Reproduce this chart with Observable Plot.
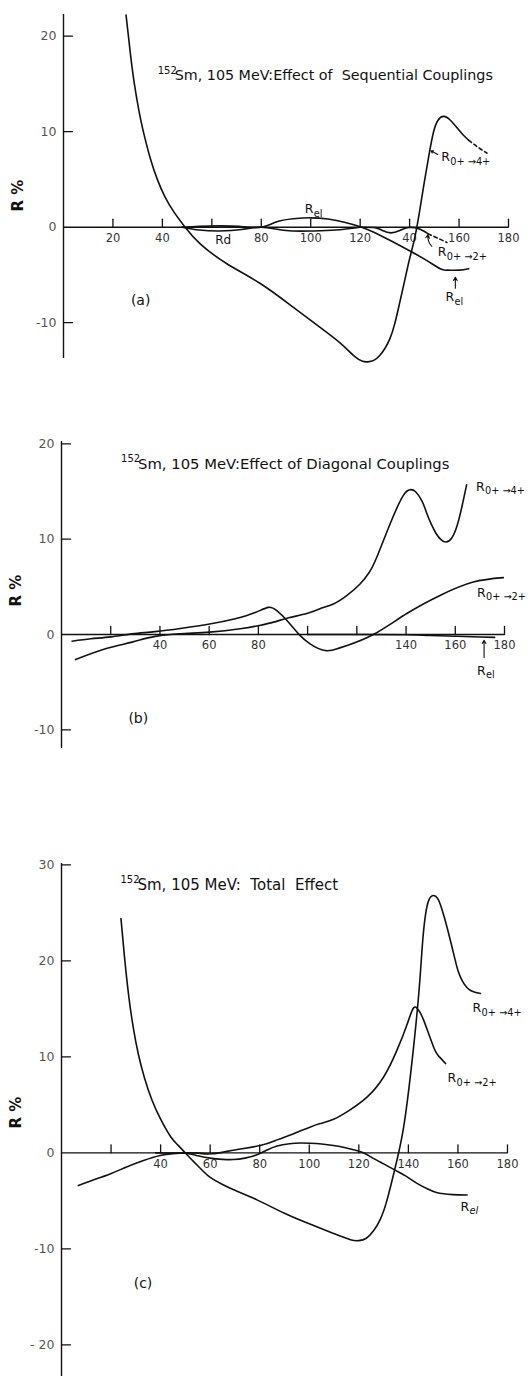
<!DOCTYPE html>
<html><head><meta charset="utf-8">
<script src="https://cdn.jsdelivr.net/npm/d3@7"></script>
<script src="https://cdn.jsdelivr.net/npm/@observablehq/plot@0.6"></script>
<style>
html,body{margin:0;padding:0;background:#fff}
body{width:528px;height:1376px;position:relative;overflow:hidden}
.panel{position:absolute;left:0}
.panel svg{overflow:visible}
</style></head><body>
<div id="pa" class="panel" style="top:0"></div>
<div id="pb" class="panel" style="top:420px"></div>
<div id="pc" class="panel" style="top:860px"></div>
<script>
// ---------- Panel (a): Effect of Sequential Couplings ----------
const aTitle = "Sm, 105 MeV:Effect of  Sequential Couplings";
const aR04Deg = [25.3, 27, 28.5, 30.5, 32.3, 35, 38.1, 41, 44.5, 49.2, 55.3, 66.1, 79.6, 93, 103.8, 112.2, 117.6, 121, 123, 125.5, 128, 130, 132, 134, 136, 138, 140, 142, 144, 146, 148, 149.7, 151.5, 153.8, 156.5, 159.2, 161.5, 163.9];
const aR04Val = [22.2, 18.3, 15.3, 12.2, 10, 7.3, 4.9, 3.2, 1.65, 0, -1.74, -3.83, -5.9, -8.4, -10.5, -12.2, -13.5, -14.05, -14.1, -13.95, -13.4, -12.7, -11.7, -10.1, -7.9, -5.6, -3.3, -1.2, 1.6, 4.8, 7.8, 10.0, 11.2, 11.6, 11.2, 10.4, 9.7, 9.1];
const aR04DashDeg = [163.9, 167.5, 171.3];
const aR04DashVal = [9.1, 8.4, 7.75];
const aRelDeg = [48, 55, 63, 71, 80, 86, 93, 100, 107, 114, 120, 125.3, 132.2, 140.9, 147, 152.4, 155.1, 160, 163.9];
const aRelVal = [0, 0.1, 0.14, 0.08, 0, 0.55, 0.88, 0.98, 0.85, 0.5, 0.05, -0.5, -1.4, -2.6, -3.5, -4.36, -4.5, -4.5, -4.36];
const aRdDeg = [48, 55, 63, 72, 80, 90, 100, 110, 120];
const aRdVal = [0, -0.3, -0.4, -0.25, 0, -0.35, -0.4, -0.3, 0];
const aR02Deg = [120, 126, 129, 132.5, 136, 139, 142, 144.5, 147.5];
const aR02Val = [0, -0.05, -0.35, -0.6, -0.35, -0.05, -0.05, -0.25, -0.7];
const aR02DashDeg = [147.5, 151, 155.1];
const aR02DashVal = [-0.7, -1.1, -1.6];
const aXTicks = [20, 40, 60, 80, 100, 120, 140, 160, 180];
const aXLabels = ["20", "40", "", "80", "100", "120", "40", "160", "180"];
const aYTicks = [20, 10, -10];
const aYLabelVals = [20, 10, 0, -10];
const aYLabels = ["20", "10", "0", "-10"];

// ---------- Panel (b): Effect of Diagonal Couplings ----------
const bTitle = "Sm, 105 MeV:Effect of Diagonal Couplings";
const bR02Deg = [4.3, 12, 20, 28.7, 38, 49, 60.2, 70.6, 78.7, 84.1, 87.5, 91.6, 96.3, 101, 107.1, 112, 116, 126.7, 140.3, 153.8, 167.3, 179.5];
const bR02Val = [-0.7, -0.45, -0.25, 0.07, 0.3, 0.66, 1.1, 1.65, 2.3, 2.85, 2.5, 1.47, 0.07, -0.98, -1.68, -1.5, -1.15, 0, 2.2, 4.1, 5.5, 5.97];
const bR04Deg = [5.7, 17.9, 28.7, 38.1, 50, 60.2, 72.6, 80.4, 86.2, 92.3, 99.7, 105, 110.5, 116, 121.3, 125, 128.1, 133.5, 138.9, 141.9, 143.8, 146.5, 148.3, 150.2, 152.2, 154.2, 156.3, 158.5, 160.6, 162.6, 164.6];
const bR04Val = [-2.63, -1.5, -0.8, -0.2, 0.1, 0.25, 0.6, 0.95, 1.3, 1.75, 2.2, 2.7, 3.2, 4.1, 5.3, 6.5, 8.1, 11.6, 14.6, 15.2, 15.0, 14.0, 12.8, 11.6, 10.6, 9.95, 9.7, 10.1, 11.3, 13.3, 15.7];
const bRelDeg = [100, 120, 140, 150, 160, 170, 176];
const bRelVal = [0, 0, -0.03, -0.1, -0.18, -0.26, -0.3];
const bXTicks = [20, 40, 60, 80, 100, 120, 140, 160, 180];
const bXLabels = ["", "40", "60", "80", "", "", "140", "160", "180"];
const bYTicks = [20, 10, -10];
const bYLabelVals = [20, 10, 0, -10];
const bYLabels = ["20", "10", "0", "-10"];

// ---------- Panel (c): Total Effect ----------
const cTitle = "Sm, 105 MeV:  Total  Effect";
const cR04Deg = [24, 25.5, 27.2, 29, 31, 33.5, 36.5, 40, 44, 47, 49.9, 52.5, 55, 57.5, 60, 65, 70, 78.9, 90, 100, 109.8, 116.6, 120, 123, 126, 128.7, 131.4, 134.7, 138.1, 141.5, 144.2, 145.6, 146.8, 148.2, 150, 151.8, 153.5, 155.6, 158.3, 160, 161.7, 163.7, 166, 169.1];
const cR04Val = [24.4, 20.2, 16.2, 13.0, 10.3, 7.8, 5.5, 3.5, 1.7, 0.8, 0, -0.7, -1.35, -2.0, -2.55, -3.3, -3.9, -4.9, -6.3, -7.4, -8.4, -9.05, -9.15, -8.9, -8.1, -6.9, -4.9, -1.5, 2.7, 9.6, 16.6, 21.5, 24.6, 26.3, 26.8, 26.5, 25.4, 23.5, 20.7, 19.0, 17.95, 17.2, 16.8, 16.6];
const cR02Deg = [6.8, 12, 19.6, 26, 33.1, 39.8, 45, 49.9, 55, 60.7, 70, 80.2, 87, 93.7, 100, 104.4, 109.8, 116, 123.3, 130, 135.4, 139.5, 142.1, 144, 146.2, 150.2, 152.5, 155];
const cR02Val = [-3.4, -2.9, -2.2, -1.5, -0.8, -0.28, -0.08, 0, -0.03, -0.1, 0.3, 0.76, 1.35, 2.0, 2.65, 3.05, 3.5, 4.4, 5.8, 7.9, 10.7, 13.4, 15.1, 14.9, 13.8, 11.0, 10.0, 9.3];
const cRelDeg = [38, 45, 50, 55, 60, 65, 69.4, 74, 78.9, 83, 87, 92, 96.4, 100.4, 105, 109.8, 115, 121.3, 125, 130, 135, 139.5, 143, 147.6, 151, 154.3, 158, 163.7];
const cRelVal = [0, -0.02, -0.05, -0.3, -0.55, -0.68, -0.7, -0.55, -0.2, 0.3, 0.72, 0.95, 1.02, 1.0, 0.92, 0.76, 0.5, 0.06, -0.45, -1.15, -1.85, -2.5, -3.1, -3.75, -4.1, -4.27, -4.35, -4.4];
const cXTicks = [20, 40, 60, 80, 100, 120, 140, 160, 180];
const cXLabels = ["", "40", "60", "80", "100", "120", "140", "160", "180"];
const cYTicks = [30, 20, 10, -10, -20];
const cYLabelVals = [30, 20, 10, 0, -10, -20];
const cYLabels = ["30", "20", "10", "0", "-10", "- 20"];

// ---------- helpers ----------
const FONT = "DejaVu Sans";
const INK = "#111";
const pts = (xs, ys) => xs.map((x, i) => ({x, y: ys[i]}));
const tickShape = {draw(ctx, l) { ctx.moveTo(0, 0); ctx.lineTo(0, -l); }};

function curve(xs, ys, dashed) {
  return Plot.line(pts(xs, ys), {x: "x", y: "y", curve: "natural", stroke: INK, strokeWidth: 1.6,
    strokeDasharray: dashed ? "3.5,3" : null});
}
function subLabel(x, y, base, sub, opts = {}) {
  const fs = opts.fs || 12.5;
  return [
    Plot.text([0], {x: () => x, y: () => y, text: () => base, textAnchor: "start", fontSize: fs, fill: INK}),
    Plot.text([0], {x: () => x, y: () => y, text: () => sub, textAnchor: "start", fontSize: fs * 0.78, dx: fs * 0.72, dy: 4.5, fill: INK, fontStyle: opts.italic ? "italic" : null})
  ];
}
function title(x, y, main, fs) {
  return [
    Plot.text([0], {x: () => x, y: () => y, text: () => "152", textAnchor: "start", fontSize: 10, dy: -5, fill: INK}),
    Plot.text([0], {x: () => x, y: () => y, text: () => main, textAnchor: "start", fontSize: fs || 14.3, dx: 17, fill: INK})
  ];
}
function plain(x, y, t, fs) {
  return Plot.text([0], {x: () => x, y: () => y, text: () => t, fontSize: fs, fill: INK});
}
function arrow(x1, y1, x2, y2, bend) {
  return Plot.arrow([0], {x1: () => x1, y1: () => y1, x2: () => x2, y2: () => y2, bend: bend || 0,
    stroke: INK, strokeWidth: 1.1, headLength: 5, insetEnd: 0});
}
function axes(xt, xl, yt, yv, yl, ylabelY) {
  return [
    Plot.ruleX([0], {stroke: INK, strokeWidth: 1.4}),
    Plot.ruleY([0], {x1: 0, x2: 180, stroke: INK, strokeWidth: 1.4}),
    Plot.vector(xt, {x: d => d, y: 0, length: 8, rotate: 0, anchor: "start", shape: tickShape, stroke: INK, strokeWidth: 1.3}),
    Plot.vector(yt, {x: 0, y: d => d, length: 9, rotate: 90, anchor: "start", shape: tickShape, stroke: INK, strokeWidth: 1.3}),
    Plot.text(xt, {x: d => d, y: 0, text: (d, i) => xl[i], dy: 11, fontSize: 11.5, fill: "#333"}),
    Plot.text(yv, {x: 0, y: d => d, text: (d, i) => yl[i], dx: -7, textAnchor: "end", fontSize: 12.5, fill: "#555"}),
    Plot.text([0], {x: 0, y: () => ylabelY, text: () => "R %", rotate: -90, dx: -45, fontSize: 15, fontWeight: "bold", fill: INK})
  ];
}

// ---------- Panel (a) ----------
const plotA = Plot.plot({
  width: 528, height: 420, marginLeft: 63, marginRight: 20, marginTop: 14, marginBottom: 62,
  x: {domain: [0, 180], axis: null}, y: {domain: [-13.75, 22.27], axis: null},
  style: {fontFamily: FONT, background: "white"},
  marks: [
    ...axes(aXTicks, aXLabels, aYTicks, aYLabelVals, aYLabels, 3.3),
    curve(aR04Deg, aR04Val), curve(aR04DashDeg, aR04DashVal, true),
    curve(aRelDeg, aRelVal), curve(aRdDeg, aRdVal),
    curve(aR02Deg, aR02Val), curve(aR02DashDeg, aR02DashVal, true),
    ...title(38.1, 15.9, aTitle),
    ...subLabel(152.8, 7.3, "R", "0+ →4+"),
    arrow(151.4, 7.6, 148.6, 8.0),
    ...subLabel(151.4, -2.65, "R", "0+ →2+"),
    arrow(149.0, -2.0, 147.4, -0.8, 25),
    ...subLabel(154.5, -7.35, "R", "el"),
    arrow(158.5, -6.4, 158.5, -5.25),
    ...subLabel(97.6, 1.9, "R", "el"),
    plain(64.6, -1.4, "Rd", 12),
    plain(31.2, -7.7, "(a)", 14)
  ]
});
document.getElementById("pa").appendChild(plotA);

// ---------- Panel (b) ----------
const plotB = Plot.plot({
  width: 528, height: 440, marginLeft: 61, marginRight: 24, marginTop: 21, marginBottom: 112,
  x: {domain: [0, 180], axis: null}, y: {domain: [-11.96, 20.25], axis: null},
  style: {fontFamily: FONT, background: "white"},
  marks: [
    ...axes(bXTicks, bXLabels, bYTicks, bYLabelVals, bYLabels, 4.6),
    curve(bR02Deg, bR02Val), curve(bR04Deg, bR04Val), curve(bRelDeg, bRelVal),
    ...title(24.2, 17.9, bTitle, 14.8),
    ...subLabel(168.4, 15.5, "R", "0+ →4+"),
    ...subLabel(168.8, 4.4, "R", "0+ →2+"),
    ...subLabel(168.8, -3.8, "R", "el"),
    arrow(171.7, -2.4, 171.7, -0.6),
    plain(31.2, -8.8, "(b)", 14)
  ]
});
document.getElementById("pb").appendChild(plotB);

// ---------- Panel (c) ----------
const plotC = Plot.plot({
  width: 528, height: 516, marginLeft: 61, marginRight: 21, marginTop: 3, marginBottom: 0,
  x: {domain: [0, 180], axis: null}, y: {domain: [-23.3, 30.14], axis: null},
  style: {fontFamily: FONT, background: "white"},
  marks: [
    ...axes(cXTicks, cXLabels, cYTicks, cYLabelVals, cYLabels, 4.2),
    curve(cR04Deg, cR04Val), curve(cR02Deg, cR02Val), curve(cRelDeg, cRelVal),
    ...title(23.8, 27.9, cTitle, 15),
    ...subLabel(165.9, 15.1, "R", "0+ →4+"),
    ...subLabel(155.8, 7.8, "R", "0+ →2+"),
    ...subLabel(161, -5.6, "R", "el", {italic: true}),
    plain(32.9, -13.6, "(c)", 14)
  ]
});
document.getElementById("pc").appendChild(plotC);
</script>
</body></html>
